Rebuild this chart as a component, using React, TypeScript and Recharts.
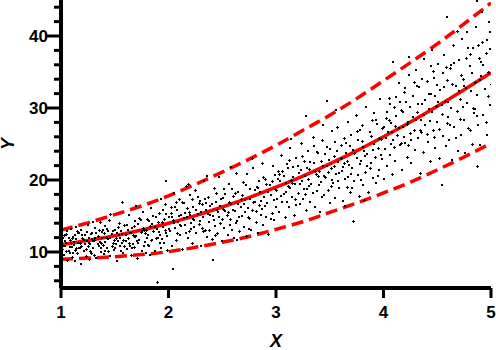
import { ComposedChart, Scatter, Line, XAxis, YAxis, Label } from 'recharts'

// curve grid (fit and prediction band)
const bandX = [1, 1.25, 1.5, 1.75, 2, 2.25, 2.5, 2.75, 3, 3.25, 3.5, 3.75, 4, 4.25, 4.5, 4.75, 5]
const fitY = [11, 11.6, 12.25, 13.05, 14, 15.05, 16.25, 17.55, 19, 20.55, 22.25, 24.05, 26, 28.05, 30.25, 32.55, 34.9]
const upperY = [13.05, 14.05, 15.2, 16.4, 17.8, 19.4, 21.1, 22.9, 24.8, 26.9, 29.0, 31.3, 33.8, 36.3, 38.9, 41.7, 44.6]
const lowerY = [9.0, 9.15, 9.35, 9.65, 10.05, 10.65, 11.35, 12.15, 13.15, 14.2, 15.5, 16.8, 18.2, 19.7, 21.4, 23.2, 25.1]

const xTicks = [1, 2, 3, 4, 5]
const yTicks = [6, 8, 10, 12, 14, 16, 18, 20, 22, 24, 26, 28, 30, 32, 34, 36, 38, 40, 42, 44]

// scatter points, x from 1 to 2
const pointsA: [number, number][] = [
	[1.01, 10.4], [1.02, 11.9], [1.03, 9.6], [1.03, 12.4], [1.04, 10.9], [1.05, 11.3], [1.06, 8.9], [1.06, 12.9],
	[1.07, 10.1], [1.08, 11.6], [1.09, 13.2], [1.1, 10.7], [1.1, 9.3], [1.11, 12.1], [1.12, 11.0], [1.13, 10.3],
	[1.14, 13.5], [1.14, 11.8], [1.15, 9.8], [1.16, 12.6], [1.17, 10.6], [1.18, 11.2], [1.19, 8.4], [1.19, 13.0],
	[1.2, 11.9], [1.21, 10.2], [1.22, 12.3], [1.23, 9.5], [1.24, 11.5], [1.25, 13.8], [1.25, 10.8], [1.26, 12.0],
	[1.27, 11.1], [1.28, 9.9], [1.29, 12.7], [1.3, 10.5], [1.31, 11.7], [1.32, 13.3], [1.33, 9.2], [1.34, 12.2],
	[1.35, 10.9], [1.36, 11.4], [1.36, 14.1], [1.37, 10.0], [1.38, 12.8], [1.39, 11.0], [1.4, 9.7], [1.41, 13.6],
	[1.42, 12.1], [1.43, 10.6], [1.44, 11.8], [1.45, 14.5], [1.46, 9.4], [1.47, 12.5], [1.48, 11.2], [1.49, 10.3],
	[1.5, 13.1], [1.51, 12.0], [1.52, 8.7], [1.53, 11.5], [1.54, 14.0], [1.55, 10.8], [1.56, 12.9], [1.57, 17.0],
	[1.57, 11.3], [1.58, 9.9], [1.59, 13.7], [1.6, 12.4], [1.61, 10.4], [1.62, 11.9], [1.63, 15.2], [1.64, 12.6],
	[1.65, 9.6], [1.66, 13.3], [1.67, 11.1], [1.68, 10.7], [1.69, 14.3], [1.7, 12.2], [1.71, 9.1], [1.72, 13.9],
	[1.73, 11.6], [1.74, 12.8], [1.75, 10.2], [1.76, 15.6], [1.77, 13.0], [1.78, 11.4], [1.79, 9.8], [1.8, 14.6],
	[1.81, 12.3], [1.82, 10.9], [1.83, 13.6], [1.84, 16.1], [1.85, 11.7], [1.86, 12.9], [1.87, 10.1], [1.88, 14.9],
	[1.89, 5.9], [1.89, 13.2], [1.9, 11.9], [1.91, 15.4], [1.92, 12.4], [1.93, 10.6], [1.94, 14.2], [1.95, 13.5],
	[1.96, 11.2], [1.97, 16.6], [1.98, 19.8], [1.98, 12.7], [1.99, 10.3], [2.0, 14.8],
	[1.02, 10.9], [1.05, 12.5], [1.08, 9.9], [1.12, 11.4], [1.15, 12.9], [1.18, 10.5], [1.22, 11.1], [1.26, 9.0],
	[1.29, 11.8], [1.33, 12.6], [1.37, 11.2], [1.41, 10.1], [1.44, 12.9], [1.47, 10.9], [1.51, 11.1], [1.54, 12.3],
	[1.58, 11.7], [1.61, 13.8], [1.64, 10.9], [1.67, 12.3], [1.71, 11.5], [1.74, 14.4], [1.78, 12.6], [1.81, 11.0],
	[1.85, 13.9], [1.88, 12.0], [1.92, 11.3], [1.95, 15.9], [1.97, 13.1], [1.99, 12.2], [1.13, 8.8], [1.46, 15.3],
	[1.3, 14.2], [1.7, 16.4], [1.09, 11.3], [1.39, 13.0], [1.56, 10.2], [1.76, 13.4], [1.93, 17.3], [1.83, 9.6],
	[1.0, 11.2], [1.01, 12.6], [1.04, 11.5], [1.05, 10.2], [1.07, 12.0], [1.08, 10.7], [1.1, 11.9], [1.11, 9.9],
	[1.13, 12.3], [1.14, 10.6], [1.16, 11.3], [1.17, 12.7], [1.19, 10.9], [1.2, 12.4], [1.21, 11.6], [1.23, 10.4],
	[1.24, 12.8], [1.26, 11.3], [1.27, 10.1], [1.28, 12.5], [1.3, 11.5], [1.31, 9.6], [1.32, 12.0], [1.34, 11.1],
	[1.35, 13.1], [1.37, 10.5], [1.38, 11.9], [1.4, 12.6], [1.41, 11.4], [1.43, 13.2], [1.44, 10.2], [1.46, 11.9],
	[1.48, 12.9], [1.49, 11.6], [1.5, 10.6], [1.52, 12.6], [1.53, 13.5], [1.55, 11.9], [1.57, 12.5], [1.59, 10.9],
	[1.6, 11.5], [1.62, 13.0], [1.63, 11.3], [1.65, 12.7], [1.66, 10.5], [1.68, 13.6], [1.69, 12.1], [1.72, 11.2],
	[1.73, 14.7], [1.75, 12.9], [1.77, 10.8], [1.79, 13.1], [1.8, 12.0], [1.82, 14.3], [1.84, 11.6], [1.86, 15.0],
	[1.87, 13.5], [1.9, 14.1], [1.91, 12.8], [1.94, 11.8], [1.96, 14.6], [1.98, 15.3],
]

// x from 2 to 3
const pointsB: [number, number][] = [
	[2.01, 12.9], [2.02, 16.3], [2.03, 10.8], [2.04, 7.6], [2.04, 14.5], [2.05, 18.2], [2.06, 13.4], [2.07, 11.6],
	[2.08, 15.8], [2.09, 14.1], [2.1, 17.4], [2.11, 12.3], [2.12, 15.1], [2.13, 10.4], [2.14, 16.8], [2.15, 13.8],
	[2.16, 19.2], [2.17, 14.9], [2.18, 12.0], [2.19, 15.6], [2.2, 17.9], [2.21, 13.2], [2.22, 11.3], [2.23, 16.2],
	[2.24, 14.4], [2.25, 18.6], [2.26, 12.7], [2.27, 15.3], [2.28, 13.9], [2.29, 17.1], [2.3, 10.9], [2.31, 16.6],
	[2.32, 14.8], [2.33, 19.9], [2.34, 13.0], [2.35, 15.9], [2.36, 12.1], [2.37, 17.6], [2.38, 14.2], [2.39, 16.4],
	[2.4, 11.8], [2.41, 8.9], [2.41, 15.0], [2.42, 18.9], [2.43, 13.6], [2.44, 16.9], [2.45, 12.6], [2.46, 15.5],
	[2.47, 20.4], [2.48, 14.0], [2.49, 17.3], [2.5, 11.5], [2.51, 16.0], [2.52, 13.3], [2.53, 18.1], [2.54, 15.2],
	[2.55, 12.4], [2.56, 19.4], [2.57, 14.6], [2.58, 16.7], [2.59, 13.1], [2.6, 17.8], [2.61, 11.9], [2.62, 15.7],
	[2.63, 21.0], [2.64, 14.3], [2.65, 18.4], [2.66, 12.9], [2.67, 16.3], [2.68, 15.0], [2.69, 19.7], [2.7, 13.5],
	[2.71, 17.2], [2.72, 12.2], [2.73, 20.8], [2.74, 16.1], [2.75, 14.7], [2.76, 18.7], [2.77, 13.0], [2.78, 15.8],
	[2.79, 21.6], [2.8, 17.0], [2.81, 14.1], [2.82, 19.0], [2.83, 12.7], [2.84, 16.5], [2.85, 18.3], [2.86, 15.2],
	[2.87, 22.3], [2.88, 13.8], [2.89, 17.6], [2.9, 20.1], [2.91, 14.9], [2.92, 16.8], [2.93, 12.5], [2.94, 19.3],
	[2.95, 17.9], [2.96, 15.4], [2.97, 21.9], [2.98, 14.4], [2.99, 18.8], [3.0, 16.2],
	[2.03, 14.9], [2.07, 16.9], [2.11, 13.7], [2.15, 15.4], [2.19, 12.9], [2.23, 14.6], [2.27, 17.7], [2.31, 13.4],
	[2.35, 16.8], [2.39, 15.1], [2.43, 12.4], [2.47, 14.9], [2.51, 17.5], [2.55, 15.6], [2.59, 18.8], [2.63, 14.0],
	[2.67, 17.3], [2.71, 15.6], [2.75, 13.2], [2.79, 16.9], [2.83, 18.9], [2.87, 16.0], [2.91, 19.4], [2.95, 14.6],
	[2.99, 20.7], [2.18, 19.5], [2.36, 20.6], [2.58, 21.8], [2.78, 23.1], [2.64, 11.6],
	[2.0, 13.2], [2.02, 15.4], [2.05, 14.0], [2.06, 16.2], [2.08, 12.6], [2.1, 15.0], [2.12, 13.6], [2.13, 17.0],
	[2.14, 14.7], [2.16, 12.6], [2.17, 16.1], [2.2, 15.2], [2.21, 14.0], [2.22, 17.3], [2.24, 13.5], [2.26, 15.9],
	[2.28, 16.8], [2.29, 14.3], [2.3, 15.6], [2.32, 12.9], [2.34, 17.4], [2.37, 15.3], [2.38, 13.1], [2.4, 16.6],
	[2.42, 14.5], [2.44, 18.2], [2.45, 15.8], [2.48, 16.4], [2.5, 14.6], [2.52, 18.7], [2.53, 15.7], [2.56, 16.9],
	[2.57, 13.8], [2.6, 15.9], [2.62, 18.2], [2.65, 16.6], [2.66, 14.8], [2.68, 17.9], [2.7, 16.7], [2.72, 19.3],
	[2.74, 14.9], [2.76, 17.4], [2.8, 18.6], [2.81, 15.7], [2.84, 19.8], [2.86, 17.1], [2.88, 20.4], [2.9, 16.4],
	[2.93, 18.4], [2.96, 19.9], [2.98, 17.2],
]

// x from 3 to 4
const pointsC: [number, number][] = [
	[3.01, 17.4], [3.02, 21.3], [3.03, 15.6], [3.04, 19.8], [3.05, 23.5], [3.06, 16.9], [3.07, 20.6], [3.08, 14.8],
	[3.09, 18.4], [3.1, 22.2], [3.11, 19.1], [3.12, 16.3], [3.13, 24.4], [3.14, 20.0], [3.15, 17.7], [3.16, 21.8],
	[3.17, 15.2], [3.18, 19.5], [3.19, 23.0], [3.2, 18.2], [3.21, 21.0], [3.22, 16.6], [3.23, 25.1], [3.24, 19.9],
	[3.25, 17.3], [3.26, 22.7], [3.27, 20.5], [3.28, 28.9], [3.28, 15.9], [3.29, 18.8], [3.3, 24.0], [3.31, 21.5],
	[3.32, 17.0], [3.33, 19.4], [3.34, 26.0], [3.35, 22.3], [3.36, 16.2], [3.37, 20.9], [3.38, 18.5], [3.39, 23.8],
	[3.4, 21.2], [3.41, 15.5], [3.42, 19.7], [3.43, 25.6], [3.44, 22.0], [3.45, 17.9], [3.46, 20.4], [3.47, 31.0],
	[3.47, 24.6], [3.48, 18.6], [3.49, 22.8], [3.5, 16.8], [3.51, 21.7], [3.52, 26.8], [3.53, 19.6], [3.54, 23.3],
	[3.55, 17.5], [3.56, 20.8], [3.57, 27.4], [3.58, 22.5], [3.59, 18.9], [3.6, 24.9], [3.61, 21.3], [3.62, 17.1],
	[3.63, 25.9], [3.64, 20.2], [3.65, 23.7], [3.66, 19.0], [3.67, 28.1], [3.68, 22.1], [3.69, 18.3], [3.7, 26.3],
	[3.71, 21.6], [3.72, 14.35], [3.72, 24.2], [3.73, 19.8], [3.74, 29.0], [3.75, 23.1], [3.76, 20.7], [3.77, 17.8],
	[3.78, 27.0], [3.79, 22.6], [3.8, 25.4], [3.81, 19.3], [3.82, 24.0], [3.83, 21.1], [3.84, 30.2], [3.85, 23.6],
	[3.86, 18.4], [3.87, 26.6], [3.88, 22.4], [3.89, 28.4], [3.9, 20.3], [3.91, 25.0], [3.92, 23.2], [3.93, 19.6],
	[3.94, 27.8], [3.95, 24.5], [3.96, 21.4], [3.97, 31.2], [3.98, 25.7], [3.99, 22.9], [4.0, 20.1],
	[3.03, 20.8], [3.07, 18.0], [3.11, 21.6], [3.15, 19.6], [3.19, 16.5], [3.23, 21.4], [3.27, 18.1], [3.31, 19.2],
	[3.35, 24.7], [3.39, 20.6], [3.43, 17.6], [3.47, 21.9], [3.51, 19.2], [3.55, 25.3], [3.59, 21.0], [3.63, 22.4],
	[3.67, 20.4], [3.71, 18.9], [3.75, 26.8], [3.79, 20.0], [3.83, 23.4], [3.87, 21.7], [3.91, 29.3], [3.95, 20.6],
	[3.99, 27.2], [3.44, 27.7], [3.64, 16.4], [3.82, 17.2], [3.56, 29.7], [3.14, 25.7],
	[3.0, 18.6], [3.02, 20.1], [3.05, 17.8], [3.06, 21.2], [3.09, 19.6], [3.1, 16.9], [3.12, 22.8], [3.13, 18.9],
	[3.16, 20.4], [3.18, 17.4], [3.2, 21.9], [3.22, 19.5], [3.24, 23.4], [3.26, 18.7], [3.29, 21.7], [3.3, 20.2],
	[3.32, 22.5], [3.34, 18.2], [3.36, 21.3], [3.38, 23.9], [3.4, 19.3], [3.42, 22.6], [3.45, 20.5], [3.46, 23.6],
	[3.48, 21.1], [3.5, 24.3], [3.52, 20.0], [3.54, 22.0], [3.57, 24.0], [3.58, 19.9], [3.6, 23.0], [3.62, 21.8],
	[3.65, 25.2], [3.66, 22.7], [3.69, 24.7], [3.7, 20.9], [3.73, 23.8], [3.76, 25.6], [3.78, 22.2], [3.8, 27.6],
	[3.81, 24.6], [3.85, 21.9], [3.88, 26.1], [3.9, 24.2], [3.93, 28.3], [3.96, 25.9], [3.98, 23.5],
]

// x from 4 to 5
const pointsD: [number, number][] = [
	[4.01, 24.3], [4.02, 28.6], [4.03, 21.9], [4.04, 26.7], [4.05, 31.4], [4.06, 23.5], [4.07, 27.9], [4.08, 20.8],
	[4.09, 36.4], [4.09, 25.6], [4.1, 30.1], [4.11, 22.7], [4.12, 28.9], [4.13, 26.2], [4.14, 33.5], [4.15, 24.8],
	[4.16, 29.7], [4.17, 21.4], [4.18, 27.3], [4.19, 32.2], [4.2, 25.1], [4.21, 30.8], [4.22, 23.2], [4.23, 28.1],
	[4.24, 34.6], [4.25, 26.5], [4.26, 22.3], [4.27, 31.6], [4.28, 27.0], [4.29, 24.1], [4.3, 35.3], [4.31, 29.4],
	[4.32, 25.8], [4.33, 32.9], [4.34, 21.0], [4.35, 28.4], [4.36, 30.6], [4.37, 23.9], [4.38, 36.8], [4.39, 27.6],
	[4.4, 33.7], [4.41, 25.3], [4.42, 29.9], [4.43, 22.6], [4.44, 31.9], [4.45, 38.0], [4.46, 26.9], [4.47, 34.2],
	[4.48, 24.4], [4.49, 30.3], [4.5, 28.0], [4.51, 36.1], [4.52, 23.0], [4.53, 32.5], [4.54, 19.3], [4.54, 29.1],
	[4.55, 26.1], [4.56, 37.4], [4.57, 31.0], [4.58, 24.7], [4.59, 42.7], [4.59, 33.9], [4.6, 28.7], [4.61, 25.5],
	[4.62, 35.5], [4.63, 30.0], [4.64, 22.8], [4.65, 38.7], [4.66, 27.4], [4.67, 33.1], [4.68, 29.6], [4.69, 24.0],
	[4.7, 36.6], [4.71, 31.3], [4.72, 26.3], [4.73, 39.6], [4.74, 34.0], [4.75, 28.3], [4.76, 23.7], [4.77, 37.0],
	[4.78, 40.5], [4.78, 30.7], [4.79, 27.2], [4.8, 35.8], [4.81, 32.3], [4.82, 25.0], [4.83, 38.3], [4.84, 29.3],
	[4.85, 33.6], [4.86, 41.2], [4.87, 44.8], [4.87, 22.0], [4.87, 31.8], [4.88, 27.7], [4.89, 36.9], [4.9, 24.9],
	[4.91, 34.4], [4.92, 39.1], [4.93, 29.0], [4.94, 32.7], [4.95, 37.6], [4.96, 39.4], [4.96, 26.25], [4.97, 35.0],
	[4.98, 42.0], [4.99, 30.4], [5.0, 33.3],
	[4.03, 29.5], [4.07, 25.0], [4.11, 27.5], [4.15, 30.9], [4.19, 26.0], [4.23, 24.9], [4.27, 28.8], [4.31, 33.0],
	[4.35, 26.6], [4.39, 31.1], [4.43, 28.2], [4.47, 26.0], [4.51, 30.9], [4.55, 34.8], [4.59, 27.9], [4.63, 36.0],
	[4.67, 25.8], [4.71, 28.5], [4.75, 33.0], [4.79, 38.4], [4.83, 30.0], [4.87, 28.9], [4.91, 36.4], [4.95, 28.0],
	[4.99, 38.2], [4.44, 35.9], [4.68, 40.7], [4.92, 43.3], [4.24, 37.1], [4.8, 26.9],
	[4.0, 27.4], [4.02, 25.9], [4.05, 28.3], [4.06, 30.5], [4.08, 26.6], [4.1, 24.6], [4.12, 31.5], [4.14, 27.2],
	[4.16, 25.2], [4.18, 29.4], [4.2, 32.8], [4.22, 27.8], [4.25, 30.2], [4.26, 25.6], [4.28, 33.6], [4.3, 28.4],
	[4.32, 30.5], [4.34, 27.0], [4.36, 34.0], [4.38, 29.0], [4.4, 26.4], [4.42, 32.0], [4.45, 29.5], [4.46, 35.2],
	[4.48, 31.6], [4.5, 33.2], [4.52, 27.1], [4.54, 30.4], [4.56, 32.9], [4.58, 35.7], [4.6, 30.9], [4.62, 27.6],
	[4.64, 33.3], [4.66, 36.2], [4.7, 32.4], [4.72, 34.6], [4.74, 30.2], [4.77, 32.8], [4.8, 37.5], [4.82, 34.9],
	[4.85, 29.8], [4.88, 38.8], [4.9, 33.9], [4.93, 36.0], [4.97, 31.7], [4.99, 40.6],
]

const FONT = '"Liberation Sans", Arial, sans-serif'

const scatterData = [...pointsA, ...pointsB, ...pointsC, ...pointsD].map(([x, y], i) => ({ x, y, plus: i % 3 === 0 }))
const bandData = bandX.map((x, i) => ({ x, fit: fitY[i], upper: upperY[i], lower: lowerY[i] }))

// tiny markers: mostly 2px squares, some small crosses like the original
const Dot = (props: any) => {
	const { cx, cy, payload } = props
	if (cx == null || cy == null) return null
	const px = Math.round(cx)
	const py = Math.round(cy)
	if (payload && payload.plus) {
		return (
			<g fill='#000'>
				<rect x={px - 1} y={py} width={3} height={1} />
				<rect x={px} y={py - 1} width={1} height={3} />
			</g>
		)
	}
	return <rect x={px - 1} y={py - 1} width={2} height={2} fill='#000' />
}

// y ticks: long with label every 10, short minor every 2
const YTick = (props: any) => {
	const { x, y, payload } = props
	const major = payload.value % 10 === 0
	return (
		<g>
			<line x1={x - (major ? 14 : 7)} x2={x} y1={y} y2={y} stroke='#000' strokeWidth={3} />
			{major && (
				<text x={x - 13} y={y} dy='0.36em' textAnchor='end' fontSize={17} fontWeight='bold' fill='#000' fontFamily={FONT}>
					{payload.value}
				</text>
			)}
		</g>
	)
}

export default function App() {
	return (
		<div style={{ position: 'absolute', left: 0, top: 0, width: 496, height: 350, background: '#fff', fontFamily: FONT }}>
			<ComposedChart width={496} height={350} margin={{ top: 0, right: 5, bottom: 0, left: 0 }}>
				<XAxis
					type='number'
					dataKey='x'
					domain={[1, 5]}
					ticks={xTicks}
					interval={0}
					height={62}
					allowDataOverflow
					axisLine={{ stroke: '#000', strokeWidth: 4 }}
					tickLine={{ stroke: '#000', strokeWidth: 3 }}
					tickSize={10}
					tickMargin={8}
					tick={{ fill: '#000', fontSize: 17, fontWeight: 'bold', fontFamily: FONT }}
				>
					<Label value='X' position='insideBottom' offset={3} style={{ fontSize: 18, fontWeight: 'bold', fontStyle: 'italic', fill: '#000', fontFamily: FONT }} />
				</XAxis>
				<YAxis
					type='number'
					domain={[5, 45]}
					ticks={yTicks}
					interval={0}
					width={61}
					allowDataOverflow
					axisLine={{ stroke: '#000', strokeWidth: 4 }}
					tickLine={false}
					tickSize={0}
					tickMargin={0}
					tick={<YTick />}
				>
					<Label
						value='Y'
						angle={-90}
						position='insideLeft'
						offset={8}
						style={{ fontSize: 18, fontWeight: 'bold', fontStyle: 'italic', fill: '#000', fontFamily: FONT, textAnchor: 'middle' }}
					/>
				</YAxis>
				<Scatter data={scatterData} dataKey='y' shape={<Dot />} isAnimationActive={false} />
				<Line data={bandData} dataKey='upper' type='monotone' stroke='#ff0000' strokeWidth={3.5} strokeDasharray='12 6' dot={false} isAnimationActive={false} />
				<Line data={bandData} dataKey='lower' type='monotone' stroke='#ff0000' strokeWidth={3.5} strokeDasharray='12 6' dot={false} isAnimationActive={false} />
				<Line data={bandData} dataKey='fit' type='monotone' stroke='#ff0000' strokeWidth={3.5} dot={false} isAnimationActive={false} />
			</ComposedChart>
		</div>
	)
}
